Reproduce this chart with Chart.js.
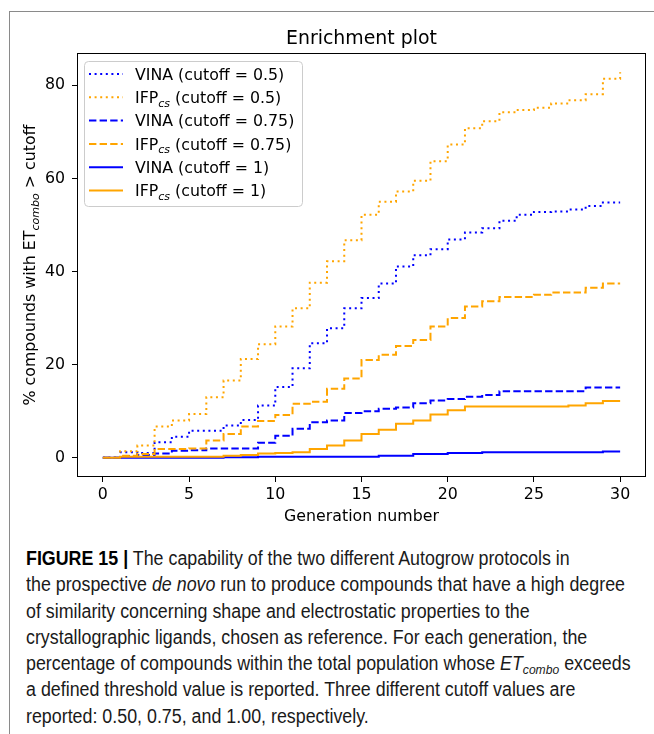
<!DOCTYPE html>
<html>
<head>
<meta charset="utf-8">
<title>Enrichment plot</title>
<script src="https://cdn.jsdelivr.net/npm/chart.js@4.4.1/dist/chart.umd.min.js"></script>
<style>
  html, body { margin: 0; padding: 0; background: #fff; }
  body { width: 654px; height: 734px; position: relative; overflow: hidden; }
  #frame { position: absolute; left: 9px; top: 11px; width: 700px; height: 800px;
           border-left: 1px solid #8a8a8a; border-top: 1px solid #8a8a8a; }
  #plot { position: absolute; left: 0; top: 0; }
  #caption { position: absolute; left: 26px; top: 545px; color: #1a1a1a;
             font-family: 'Liberation Sans', Arial, sans-serif;
             font-size: 20px; white-space: nowrap; }
  #caption div { height: 26.3px; line-height: 26.3px; width: fit-content; transform-origin: 0 50%; }
  #caption b { color: #000; }
  #caption sub { font-size: 0.68em; vertical-align: -0.3em; line-height: 0; }
</style>
</head>
<body>
<div id="frame"></div>
<canvas id="plot" width="654" height="540"></canvas>
<div id="caption">
  <div><b>FIGURE 15 |</b> The capability of the two different Autogrow protocols in</div>
  <div>the prospective <i>de novo</i> run to produce compounds that have a high degree</div>
  <div>of similarity concerning shape and electrostatic properties to the</div>
  <div>crystallographic ligands, chosen as reference. For each generation, the</div>
  <div>percentage of compounds within the total population whose <i>ET<sub>combo</sub></i> exceeds</div>
  <div>a defined threshold value is reported. Three different cutoff values are</div>
  <div>reported: 0.50, 0.75, and 1.00, respectively.</div>
</div>
<script>
// generation index and % of compounds above each cutoff (value held until the next generation)
const generations = [0, 1, 2, 3, 4, 5, 6, 7, 8, 9, 10, 11, 12, 13, 14, 15, 16, 17, 18, 19, 20,
                     21, 22, 23, 24, 25, 26, 27, 28, 29, 30];
const vina05  = [0, 1.2, 1.0, 3.3, 4.5, 5.8, 5.8, 6.9, 8.1, 11.2, 15.2, 19.2, 24.6, 27.8, 32.1, 34.3,
                 37.4, 41.1, 43.5, 44.8, 46.9, 48.4, 49.3, 50.9, 52.2, 52.8, 52.9, 53.3, 54.1, 54.8, 54.8];
const ifp05   = [0, 1.4, 2.6, 6.7, 8.0, 9.4, 13.0, 16.6, 21.2, 24.4, 28.2, 32.1, 37.6, 42.2, 46.7, 52.2,
                 55.0, 57.2, 59.5, 63.7, 67.3, 70.8, 72.3, 74.2, 74.7, 75.2, 76.1, 76.8, 78.1, 81.4, 82.8];
const vina075 = [0, 0.3, 0.6, 0.9, 1.5, 1.6, 2.0, 2.0, 2.0, 3.2, 4.7, 6.2, 7.6, 8.0, 9.6, 10.0,
                 10.5, 10.8, 11.7, 12.3, 12.6, 13.1, 13.5, 14.3, 14.3, 14.3, 14.3, 14.3, 15.1, 15.1, 15.1];
const ifp075  = [0, 0.4, 0.8, 1.9, 1.9, 2.0, 3.7, 5.1, 6.7, 7.9, 9.2, 11.6, 12.0, 14.8, 17.0, 21.0,
                 22.1, 24.0, 25.3, 28.2, 30.0, 32.5, 33.6, 34.5, 34.5, 35.0, 35.5, 35.5, 36.5, 37.4, 37.4];
const vina1   = [0, 0, 0, 0, 0, 0, 0, 0.1, 0.1, 0.2, 0.2, 0.2, 0.2, 0.2, 0.2, 0.2,
                 0.4, 0.4, 0.8, 0.8, 1.0, 1.0, 1.2, 1.2, 1.2, 1.2, 1.2, 1.2, 1.2, 1.35, 1.35];
const ifp1    = [0, 0.2, 0.2, 0.2, 0.2, 0.2, 0.2, 0.4, 0.6, 0.9, 1.0, 1.2, 1.9, 2.6, 3.7, 5.1,
                 6.0, 7.3, 8.0, 9.3, 10.2, 11.0, 11.0, 11.0, 11.0, 11.0, 11.0, 11.2, 11.7, 12.2, 12.2];

const xTicks = [0, 5, 10, 15, 20, 25, 30];
const yTicks = [0, 20, 40, 60, 80];

const BLUE = '#0000ff';
const ORANGE = '#ffa500';
const DOTTED = [2, 3.6];
const DASHED = [7.4, 3.2];
const FONT = '"DejaVu Sans", sans-serif';
const BASE = 15.8;   // tick, axis and legend text size

const series = [
  { method: 'VINA', cutoff: '0.5',  values: vina05,  color: BLUE,   dash: DOTTED },
  { method: 'IFP',  cutoff: '0.5',  values: ifp05,   color: ORANGE, dash: DOTTED },
  { method: 'VINA', cutoff: '0.75', values: vina075, color: BLUE,   dash: DASHED },
  { method: 'IFP',  cutoff: '0.75', values: ifp075,  color: ORANGE, dash: DASHED },
  { method: 'VINA', cutoff: '1',    values: vina1,   color: BLUE,   dash: [] },
  { method: 'IFP',  cutoff: '1',    values: ifp1,    color: ORANGE, dash: [] }
];

// legend label pieces: IFP gets an italic "cs" subscript
function richParts(label) {
  const parts = [{ text: label.method, font: BASE + 'px ' + FONT, dy: 0 }];
  if (label.method === 'IFP') parts.push({ text: 'cs', font: 'italic ' + (BASE * 0.7) + 'px ' + FONT, dy: 3.7 });
  parts.push({ text: ' (cutoff = ' + label.cutoff + ')', font: BASE + 'px ' + FONT, dy: 0 });
  return parts;
}

function drawParts(ctx, parts, x, y) {
  parts.forEach(p => {
    ctx.font = p.font;
    ctx.fillText(p.text, x, y + p.dy);
    x += ctx.measureText(p.text).width;
  });
}

function partsWidth(ctx, parts) {
  return parts.reduce((w, p) => { ctx.font = p.font; return w + ctx.measureText(p.text).width; }, 0);
}

const decor = {
  id: 'decor',
  afterDatasetsDraw(chart) {
    const { ctx, chartArea: a } = chart;
    ctx.save();

    // axes frame
    ctx.strokeStyle = '#000';
    ctx.lineWidth = 1;
    ctx.setLineDash([]);
    ctx.strokeRect(Math.round(a.left) + 0.5, Math.round(a.top) + 0.5,
                   Math.round(a.right - a.left) - 1, Math.round(a.bottom - a.top) - 1);

    // title
    ctx.fillStyle = '#000';
    ctx.font = '18.9px ' + FONT;
    ctx.textAlign = 'center';
    ctx.textBaseline = 'middle';
    ctx.fillText('Enrichment plot', (a.left + a.right) / 2, 39);

    // y axis title with subscript
    const yParts = [
      { text: '% compounds with ET', font: BASE + 'px ' + FONT, dy: 0 },
      { text: 'combo', font: 'italic ' + (BASE * 0.7) + 'px ' + FONT, dy: 3.7 },
      { text: ' > cutoff', font: BASE + 'px ' + FONT, dy: 0 }
    ];
    ctx.textAlign = 'left';
    ctx.textBaseline = 'alphabetic';
    ctx.translate(35, (a.top + a.bottom) / 2);
    ctx.rotate(-Math.PI / 2);
    drawParts(ctx, yParts, -partsWidth(ctx, yParts) / 2, 0);
    ctx.setTransform(1, 0, 0, 1, 0, 0);

    // legend
    const bx = 84, by = 61, bw = 218, bh = 145;
    ctx.beginPath();
    ctx.roundRect(bx + 0.5, by + 0.5, bw, bh, 4);
    ctx.fillStyle = 'rgba(255,255,255,0.8)';
    ctx.fill();
    ctx.strokeStyle = '#cccccc';
    ctx.stroke();

    series.forEach((s, i) => {
      const ry = 74 + i * 23.3;
      ctx.beginPath();
      ctx.strokeStyle = s.color;
      ctx.lineWidth = 2;
      ctx.setLineDash(s.dash);
      ctx.moveTo(89, ry);
      ctx.lineTo(123, ry);
      ctx.stroke();
      ctx.setLineDash([]);
      ctx.fillStyle = '#000';
      drawParts(ctx, richParts(s), 135, ry + 5.7);
    });

    ctx.restore();
  }
};

const axisFont = { family: 'DejaVu Sans', size: BASE };

new Chart(document.getElementById('plot'), {
  type: 'line',
  data: {
    datasets: series.map((s, i) => ({
      label: s.method + ' (cutoff = ' + s.cutoff + ')',
      data: generations.map((g, k) => ({ x: g, y: s.values[k] })),
      borderColor: s.color,
      borderWidth: 2,
      borderDash: s.dash,
      borderCapStyle: 'butt',
      stepped: true,
      pointRadius: 0,
      fill: false,
      order: series.length - i
    }))
  },
  options: {
    responsive: false,
    animation: false,
    events: [],
    layout: { padding: { left: 0, right: 8, top: 53, bottom: 14 } },
    plugins: {
      legend: { display: false },
      title: { display: false },
      tooltip: { enabled: false }
    },
    scales: {
      x: {
        type: 'linear',
        min: -1.5,
        max: 31.5,
        afterBuildTicks: s => { s.ticks = xTicks.map(v => ({ value: v })); },
        afterFit: s => { s.height = 49; },
        border: { display: false },
        grid: { drawOnChartArea: false, drawTicks: true, tickLength: 5, color: '#000', lineWidth: 1 },
        ticks: { color: '#000', font: axisFont, padding: 3, maxRotation: 0, autoSkip: false },
        title: { display: true, text: 'Generation number', color: '#000', font: axisFont,
                 padding: { top: 0, bottom: 0 } }
      },
      y: {
        type: 'linear',
        min: -4.14,
        max: 86.94,
        afterBuildTicks: s => { s.ticks = yTicks.map(v => ({ value: v })); },
        afterFit: s => { s.width = 77; },
        border: { display: false },
        grid: { drawOnChartArea: false, drawTicks: true, tickLength: 5, color: '#000', lineWidth: 1 },
        ticks: { color: '#000', font: axisFont, padding: 7 }
      }
    }
  },
  plugins: [decor]
});

// squeeze the caption lines horizontally so the widest one spans the text column
const captionLines = document.querySelectorAll('#caption div');
const squeeze = 599 / captionLines[1].getBoundingClientRect().width;
captionLines.forEach(d => { d.style.transform = 'scaleX(' + squeeze.toFixed(4) + ')'; });
</script>
</body>
</html>
